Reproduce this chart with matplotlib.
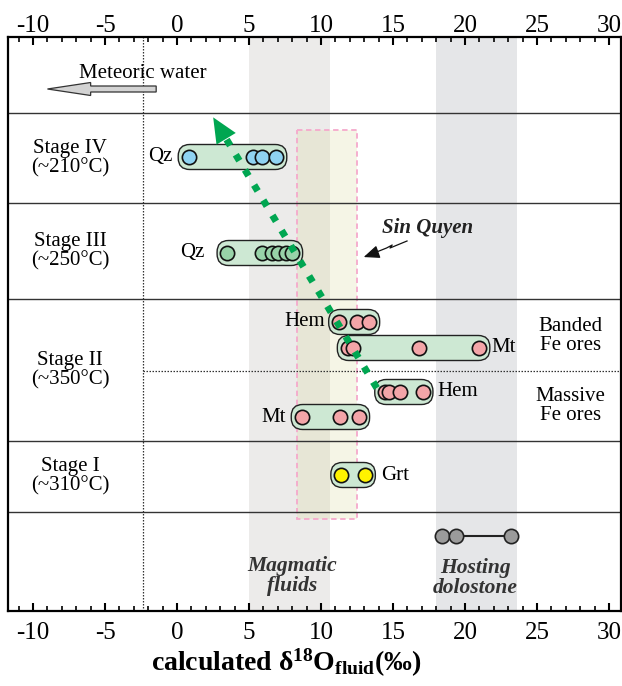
import matplotlib
matplotlib.use("Agg")
import matplotlib.pyplot as plt
from matplotlib.patches import FancyBboxPatch, Rectangle
import numpy as np

plt.rcParams['font.family'] = ['Liberation Serif', 'DejaVu Serif']
plt.rcParams['mathtext.fontset'] = 'custom'
plt.rcParams['mathtext.rm'] = 'Liberation Serif'
plt.rcParams['mathtext.bf'] = 'Liberation Serif:bold'
plt.rcParams['mathtext.it'] = 'Liberation Serif:italic'

# calculated d18O fluid values (permil)
qz_stage4 = [0.8, 5.3, 5.9, 6.9]
qz_stage3 = [3.5, 5.9, 6.6, 7.0, 7.6, 8.0]
hem_banded = [11.25, 12.5, 13.35]
mt_banded = [11.85, 12.2, 16.8, 21.0]
hem_massive = [14.45, 14.75, 15.5, 17.05]
mt_massive = [8.65, 11.3, 12.65]
grt_stage1 = [11.4, 13.05]
dolostone = [18.4, 19.4, 23.2]

magmatic_range = [5.0, 10.6]
dolostone_range = [18.0, 23.6]
sin_quyen_range = [8.3, 12.5]
meteoric_limit = -2.35

stage_names = ['Stage IV\n(~210°C)', 'Stage III\n(~250°C)', 'Stage II\n(~350°C)', 'Stage I\n(~310°C)']

# layout (vertical axis runs in pixel-like units, top = 37, bottom = 611)
Y_TOP, Y_BOT = 37, 611
row_sep = [113, 203, 299, 441, 512]
stage_y = [158, 251, 370, 476]
PXU = 14.4  # pixels per x unit

fig = plt.figure(figsize=(6.22, 6.86), dpi=100)
W, H = 622, 686
ax = fig.add_axes([8 / W, (H - Y_BOT) / H, (621 - 8) / W, (Y_BOT - Y_TOP) / H])
ax.set_xlim(-11.74, 30.83)
ax.set_ylim(Y_BOT, Y_TOP)

# background bands
ax.axvspan(*magmatic_range, color='#ecebea', zorder=0, lw=0)
ax.axvspan(*dolostone_range, color='#e5e6e8', zorder=0, lw=0)

# Sin Quyen dashed box
ax.add_patch(Rectangle((sin_quyen_range[0], 130), sin_quyen_range[1] - sin_quyen_range[0], 389,
                       facecolor=(0.85, 0.86, 0.62, 0.25), edgecolor='none', zorder=1))
ax.add_patch(Rectangle((sin_quyen_range[0], 130), sin_quyen_range[1] - sin_quyen_range[0], 389,
                       facecolor='none', edgecolor='#f5a9cc', lw=1.3, ls=(0, (3, 2)), zorder=1.5))

# separators
for ys in row_sep:
    ax.axhline(ys, color='#333333', lw=1.0, zorder=2)
ax.plot([meteoric_limit, 31], [371, 371], color='#333333', lw=0.9, ls=(0, (1.2, 1.2)), zorder=2)
ax.axvline(meteoric_limit, color='#333333', lw=0.9, ls=(0, (1.2, 1.2)), zorder=2)

# stage labels
for name, ys in zip(stage_names, stage_y):
    ax.text(-7.43, ys, name, ha='center', va='center', fontsize=15, linespacing=1.0)

ax.text(27.3, 336, 'Banded\nFe ores', ha='center', va='center', fontsize=15, linespacing=0.95)
ax.text(27.3, 406, 'Massive\nFe ores', ha='center', va='center', fontsize=15, linespacing=0.95)

# mineral groups
groups = [
    (qz_stage4, 157, '#8fd3f2', 'Qz', 'left', 4),
    (qz_stage3, 253, '#98d3a8', 'Qz', 'left', 9),
    (hem_banded, 322, '#f3a5a8', 'Hem', 'left', 3),
    (mt_banded, 348, '#f3a5a8', 'Mt', 'right', 1),
    (hem_massive, 392, '#f3a5a8', 'Hem', 'right', 3),
    (mt_massive, 417, '#f3a5a8', 'Mt', 'left', 4),
    (grt_stage1, 475, '#fff200', 'Grt', 'right', 4),
]
pad = 0.72
for vals, ys, col, lab, side, off in groups:
    x0, x1 = min(vals) - pad, max(vals) + pad
    box = FancyBboxPatch((x0, ys - 12.5), x1 - x0, 25,
                         boxstyle='round,pad=0,rounding_size=0.8', mutation_aspect=PXU,
                         facecolor='#cde8d3', edgecolor='#222222', lw=1.0, zorder=3)
    ax.add_patch(box)
    ax.plot(vals, [ys] * len(vals), 'o', ms=10.3, mfc=col, mec='#111111', mew=1.2, zorder=4)
    if side == 'left':
        ax.annotate(lab, (x0, ys), xytext=(-off, 0), textcoords='offset points',
                    ha='right', va='center', fontsize=15)
    else:
        ax.annotate(lab, (x1, ys), xytext=(off, 0), textcoords='offset points',
                    ha='left', va='center', fontsize=15)

# hosting dolostone
ax.plot([min(dolostone), max(dolostone)], [536, 536], color='#222222', lw=1.5, zorder=3)
ax.plot(dolostone, [536] * len(dolostone), 'o', ms=10.3, mfc='#9b9b9b', mec='#222222', mew=1.2, zorder=4)

# italic labels
ax.text(7.99, 576, 'Magmatic\nfluids', ha='center', va='center', fontsize=15.5,
        fontweight='bold', fontstyle='italic', color='#333333', linespacing=1.05)
ax.text(20.7, 578, 'Hosting\ndolostone', ha='center', va='center', fontsize=15.5,
        fontweight='bold', fontstyle='italic', color='#333333', linespacing=1.05)
ax.text(17.43, 228, 'Sin Quyen', ha='center', va='center', fontsize=15,
        fontweight='bold', fontstyle='italic', color='#222222')

# Sin Quyen pointer (small zigzag arrow)
ax.plot([15.97, 14.79, 14.94, 14.55, 13.68], [241, 248, 245, 248, 253], color='#111111', lw=0.9, zorder=5)
ax.annotate('', xy=(12.78, 258), xytext=(13.75, 253),
            arrowprops=dict(arrowstyle='-|>,head_length=1.2,head_width=0.5', mutation_scale=8,
                            color='#111111', lw=0.9), zorder=5)

# meteoric water arrow
ax.arrow(-1.45, 89, -4.55, 0, width=6, head_width=13, head_length=3.0, length_includes_head=False,
         facecolor='#d3d3d3', edgecolor='#333333', lw=0.9, zorder=3)
ax.text(meteoric_limit, 73, 'Meteoric water', ha='center', va='center', fontsize=15)

# green trend arrow
x_start, y_start = 13.87, 388
x_tip, y_tip = 2.41, 115
dxp, dyp = (x_tip - x_start) * PXU, (y_tip - y_start)
L = np.hypot(dxp, dyp)
ux, uy = dxp / L, dyp / L
back = 22
ax.plot([x_start, x_tip - back * ux / PXU], [y_start, y_tip - back * uy],
        color='#00a651', lw=5, dashes=(1.0, 1.55), dash_capstyle='butt', zorder=6)
ax.annotate('', xy=(x_tip, y_tip), xytext=(x_tip - 26 * ux / PXU, y_tip - 26 * uy),
            arrowprops=dict(arrowstyle='-|>,head_length=1.0,head_width=0.45', mutation_scale=18,
                            color='#00a651', lw=0), zorder=6)

# axes
ticks = np.arange(-10, 31, 5)
minor = np.arange(-11, 31, 1)
ax.set_xticks(ticks)
ax.set_xticks(minor, minor=True)
ax.set_xticklabels([str(t) for t in ticks])
ax.set_yticks([])
ax.tick_params(axis='x', which='major', direction='in', length=6, width=1.5, labelsize=18,
               top=True, bottom=True, labeltop=False, labelbottom=True, pad=8)
ax.tick_params(axis='x', which='minor', direction='in', length=3.5, width=1.2, top=True, bottom=True)

secax = ax.secondary_xaxis('top')
secax.set_xticks(ticks)
secax.set_xticklabels([str(t) for t in ticks])
secax.tick_params(axis='x', which='both', length=0, labelsize=18, pad=0)
secax.spines['top'].set_visible(False)

for s in ax.spines.values():
    s.set_linewidth(1.6)

fig.text(286 / W, (H - 663) / H,
         r'calculated $\mathbf{\delta}^{\mathbf{18}}\mathbf{O}_{\mathbf{fluid}}$(‰)',
         ha='center', va='center', fontsize=20, fontweight='bold')

fig.savefig('out.png', dpi=100)
